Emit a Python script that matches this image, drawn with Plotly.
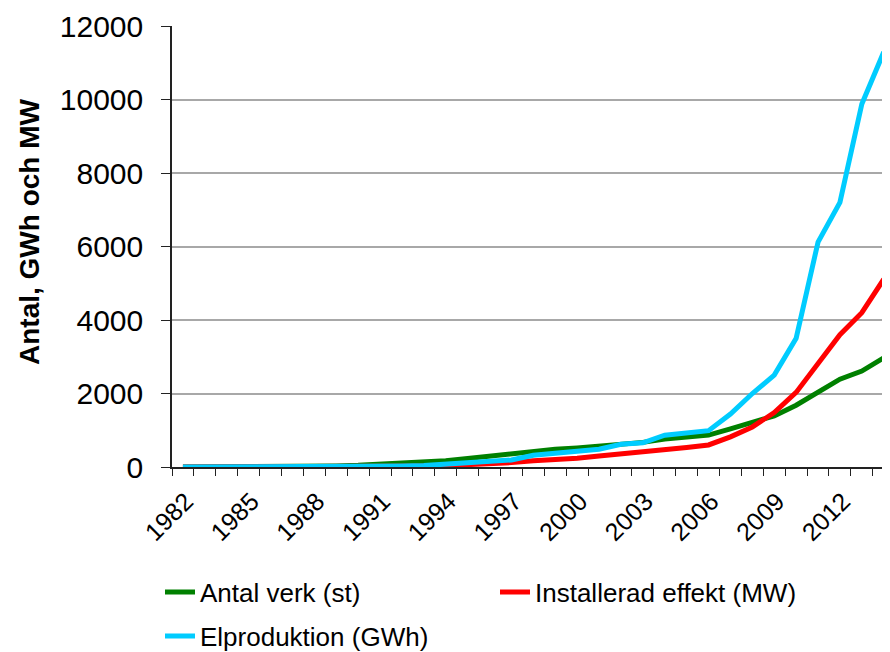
import plotly.graph_objects as go

years = list(range(1982, 2015))
antal_verk = [1, 2, 3, 5, 8, 12, 20, 30, 45, 70, 100, 140, 170, 230, 300, 340,
              420, 480, 520, 560, 610, 670, 760, 820, 870, 1040, 1210, 1390,
              1680, 2040, 2390, 2610, 2970]
installerad_effekt = [0, 0, 1, 1, 2, 3, 4, 5, 8, 12, 18, 25, 35, 60, 100, 120,
                      170, 200, 235, 300, 350, 410, 480, 530, 600, 820, 1090,
                      1480, 2030, 2810, 3600, 4200, 5110]
elproduktion = [0, 0, 1, 2, 3, 5, 6, 8, 10, 20, 30, 40, 70, 100, 140, 190,
                320, 370, 450, 485, 620, 660, 866, 930, 990, 1440, 2000, 2500,
                3500, 6120, 7200, 9880, 11290]
x_tick_labels = [str(y) for y in range(1982, 2013, 3)]
y_ticks = [0, 2000, 4000, 6000, 8000, 10000, 12000]
y_tick_labels = [str(v) for v in y_ticks]

FONT = "Arial, Liberation Sans, Helvetica, sans-serif"

fig = go.Figure()
fig.add_trace(go.Scatter(x=years, y=antal_verk, mode="lines", name="Antal verk (st)",
                         line=dict(color="#008000", width=5), legend="legend"))
fig.add_trace(go.Scatter(x=years, y=installerad_effekt, mode="lines",
                         name="Installerad effekt (MW)",
                         line=dict(color="#FF0000", width=5), legend="legend"))
fig.add_trace(go.Scatter(x=years, y=elproduktion, mode="lines", name="Elproduktion (GWh)",
                         line=dict(color="#00CCFF", width=5), legend="legend2"))

W, H = 882, 644
fig.update_layout(
    width=W, height=H,
    margin=dict(l=164, r=1, t=18, b=185, autoexpand=False),
    paper_bgcolor="white", plot_bgcolor="white",
    font=dict(family=FONT, color="black"),
    legend=dict(orientation="h", xref="container", yref="container",
                x=152 / W, y=1 - 584 / H, xanchor="left", yanchor="middle",
                font=dict(size=26, family=FONT), entrywidth=290,
                entrywidthmode="pixels", bgcolor="rgba(0,0,0,0)"),
    legend2=dict(orientation="h", xref="container", yref="container",
                 x=152 / W, y=1 - 628 / H, xanchor="left", yanchor="middle",
                 font=dict(size=26, family=FONT), bgcolor="rgba(0,0,0,0)"),
    showlegend=True,
)

fig.update_xaxes(
    range=[1981.5, 2014.24],
    tickmode="array", tickvals=[int(t) for t in x_tick_labels], ticktext=x_tick_labels,
    tickangle=-45, tickfont=dict(size=25, family=FONT),
    ticklabelstandoff=8, ticklabelshift=3,
    ticks="", showgrid=False, zeroline=False,
    showline=True, linecolor="#222222", linewidth=1.5,
    minor=dict(tickmode="linear", tick0=1981.5, dtick=1, ticks="outside",
               ticklen=7, tickcolor="#222222", tickwidth=1.2, showgrid=False),
)
fig.update_yaxes(
    range=[0, 12000], tickmode="array", tickvals=y_ticks, ticktext=y_tick_labels,
    tickfont=dict(size=30, family=FONT),
    ticks="outside", ticklen=9, tickcolor="#222222", tickwidth=1.2,
    ticklabelstandoff=12,
    showgrid=True, gridcolor="#A8A8A8", gridwidth=1.5, zeroline=False,
    showline=True, linecolor="#222222", linewidth=1.5,
)

fig.add_annotation(text="<b>Antal, GWh och MW</b>", textangle=-90,
                   xref="paper", yref="paper", x=-0.198, y=0.533,
                   xanchor="center", yanchor="middle", showarrow=False,
                   font=dict(size=28, family=FONT, color="black"))

fig.write_html("out.html")
